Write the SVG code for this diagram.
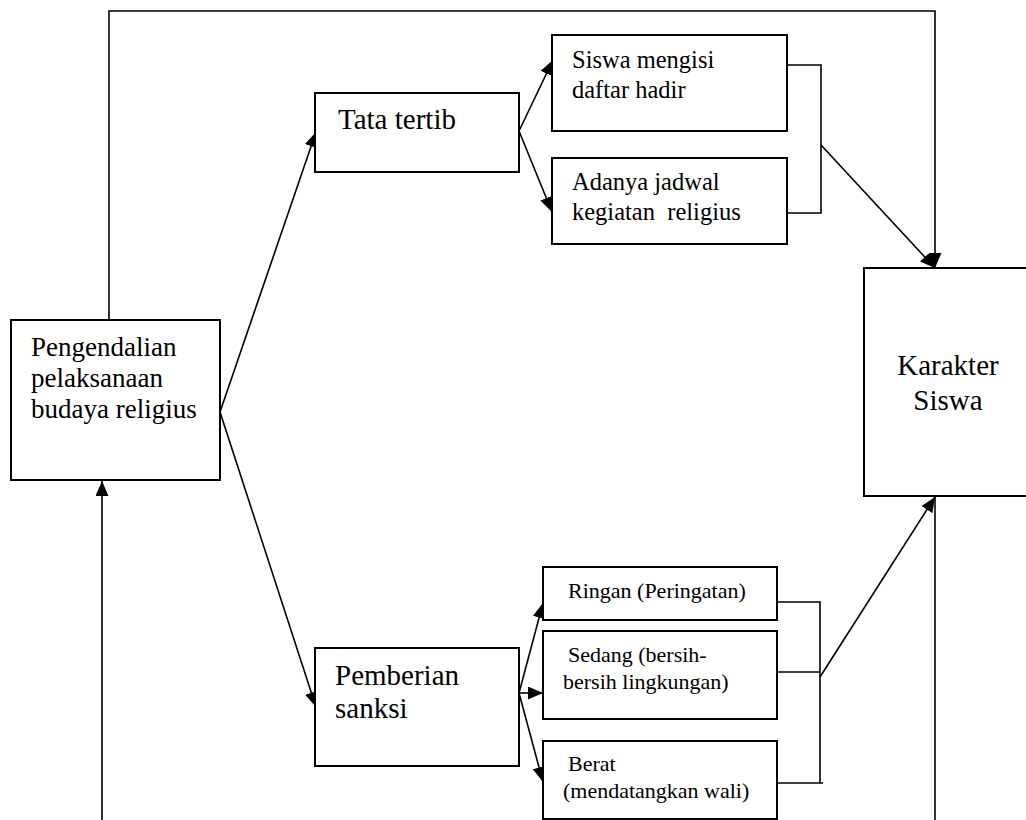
<svg xmlns="http://www.w3.org/2000/svg" width="1026" height="820" viewBox="0 0 1026 820">
  <style>
    .box { fill: #fff; stroke: #000; stroke-width: 2; }
    .ln { fill: none; stroke: #000; stroke-width: 1.6; }
    text { font-family: 'Liberation Serif', 'Times New Roman', Times, Tinos, 'Noto Serif', 'DejaVu Serif', FreeSerif, serif; fill: #000; }
    .lg { font-size: 29px; }
    .md { font-size: 27px; }
    .sm { font-size: 24.5px; }
    .xs { font-size: 22px; }
  </style>
  <defs>
    <marker id="arrow" markerUnits="userSpaceOnUse" markerWidth="15" markerHeight="13" refX="15" refY="6.5" orient="auto">
      <path d="M0,0 L15,6.5 L0,13 z" fill="#000"/>
    </marker>
  </defs>
  <rect width="1026" height="820" fill="#fff"/>

  <!-- connectors -->
  <g id="connectors">
    <!-- loop over the top into Karakter Siswa -->
    <polyline class="ln" points="109,320 109,11 935,11 935,268" marker-end="url(#arrow)"/>
    <!-- feedback from the bottom back into the control box -->
    <line class="ln" x1="102" y1="820" x2="102" y2="481" marker-end="url(#arrow)"/>
    <!-- control box to its two branches -->
    <line class="ln" x1="220" y1="412" x2="316" y2="132" marker-end="url(#arrow)"/>
    <line class="ln" x1="220" y1="412" x2="316" y2="707" marker-end="url(#arrow)"/>
    <!-- Tata tertib to its items -->
    <line class="ln" x1="519" y1="131" x2="553" y2="60" marker-end="url(#arrow)"/>
    <line class="ln" x1="519" y1="131" x2="552" y2="212" marker-end="url(#arrow)"/>
    <!-- bracket joining the Tata tertib items -->
    <polyline class="ln" points="787,65 821,65 821,213 787,213"/>
    <line class="ln" x1="821" y1="145" x2="935" y2="268" marker-end="url(#arrow)"/>
    <!-- Pemberian sanksi to its levels -->
    <line class="ln" x1="519" y1="693" x2="543" y2="603" marker-end="url(#arrow)"/>
    <line class="ln" x1="519" y1="693" x2="543" y2="693" marker-end="url(#arrow)"/>
    <line class="ln" x1="519" y1="693" x2="543" y2="782" marker-end="url(#arrow)"/>
    <!-- bracket joining the sanction levels -->
    <polyline class="ln" points="777,602 820,602 820,783"/>
    <line class="ln" x1="777" y1="672" x2="820" y2="672"/>
    <line class="ln" x1="777" y1="783" x2="823" y2="783"/>
    <line class="ln" x1="820" y1="677" x2="935" y2="497" marker-end="url(#arrow)"/>
    <!-- line down from Karakter Siswa -->
    <line class="ln" x1="935" y1="496" x2="935" y2="820"/>
  </g>

  <g id="pengendalian">
    <rect class="box" x="11" y="320" width="209" height="160"/>
    <text class="md" x="31" y="356">Pengendalian</text>
    <text class="md" x="31" y="387">pelaksanaan</text>
    <text class="md" x="31" y="418">budaya religius</text>
  </g>

  <g id="tata-tertib">
    <rect class="box" x="315" y="93" width="204" height="79"/>
    <text class="lg" x="338" y="129">Tata tertib</text>
  </g>

  <g id="daftar-hadir">
    <rect class="box" x="552" y="35" width="235" height="96"/>
    <text class="sm" x="572" y="68">Siswa mengisi</text>
    <text class="sm" x="572" y="98">daftar hadir</text>
  </g>

  <g id="jadwal-kegiatan">
    <rect class="box" x="552" y="158" width="235" height="86"/>
    <text class="sm" x="572" y="190">Adanya jadwal</text>
    <text class="sm" x="572" y="220" xml:space="preserve">kegiatan  religius</text>
  </g>

  <g id="pemberian-sanksi">
    <rect class="box" x="315" y="648" width="204" height="118"/>
    <text class="lg" x="335" y="685">Pemberian</text>
    <text class="lg" x="335" y="718">sanksi</text>
  </g>

  <g id="ringan">
    <rect class="box" x="543" y="567" width="234" height="53"/>
    <text class="xs" x="568" y="598">Ringan (Peringatan)</text>
  </g>

  <g id="sedang">
    <rect class="box" x="543" y="631" width="234" height="88"/>
    <text class="xs" x="568" y="662">Sedang (bersih-</text>
    <text class="xs" x="563" y="689">bersih lingkungan)</text>
  </g>

  <g id="berat">
    <rect class="box" x="543" y="741" width="234" height="78"/>
    <text class="xs" x="568" y="771">Berat</text>
    <text class="xs" x="563" y="798">(mendatangkan wali)</text>
  </g>

  <g id="karakter-siswa">
    <rect class="box" x="864" y="268" width="170" height="228"/>
    <text class="lg" x="948" y="375" text-anchor="middle">Karakter</text>
    <text class="lg" x="948" y="410" text-anchor="middle">Siswa</text>
  </g>
</svg>
